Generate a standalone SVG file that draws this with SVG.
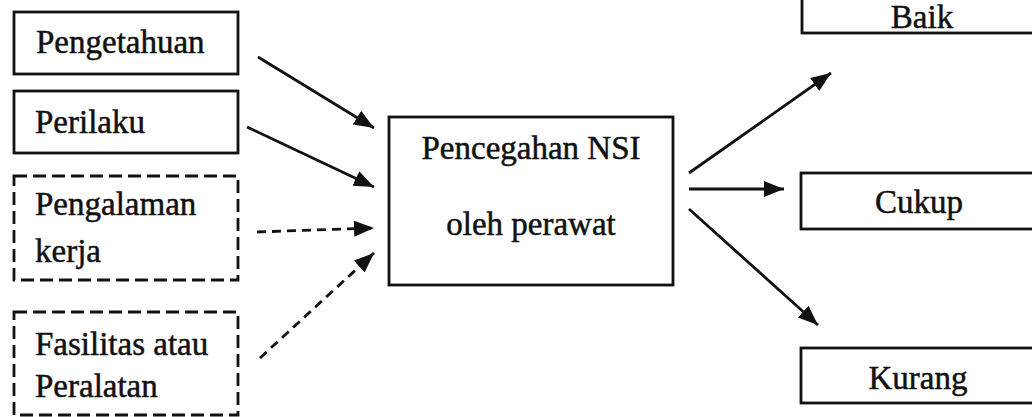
<svg xmlns="http://www.w3.org/2000/svg" width="1032" height="417" viewBox="0 0 1032 417">
<style>
.box{fill:#fff;stroke:#111;stroke-width:2.8}
.dbox{fill:#fff;stroke:#111;stroke-width:2.8;stroke-dasharray:13 6}
.t{font-family:"Liberation Serif","Times New Roman",serif;font-size:33px;fill:#111;stroke:#111;stroke-width:0.5}
.c{stroke:#111;stroke-width:2.8;fill:none}
.d{stroke-dasharray:9 6}
</style>
<defs>
<marker id="ah" markerUnits="userSpaceOnUse" markerWidth="22" markerHeight="18" refX="20" refY="8" orient="auto">
<path d="M0,0 L20,8 L0,16 Z" fill="#111"/>
</marker>
</defs>
<rect width="1032" height="417" fill="#fff"/>
<g id="n-pengetahuan"><rect class="box" x="14" y="12" width="224" height="62"/><text class="t" x="36" y="53">Pengetahuan</text></g>
<g id="n-perilaku"><rect class="box" x="14" y="91" width="224" height="62"/><text class="t" x="35" y="133">Perilaku</text></g>
<g id="n-pengalaman"><rect class="dbox" x="14" y="176" width="224" height="104"/><text class="t" x="35" y="215">Pengalaman</text><text class="t" x="35" y="262">kerja</text></g>
<g id="n-fasilitas"><rect class="dbox" x="14" y="312" width="224" height="103"/><text class="t" x="35" y="355">Fasilitas atau</text><text class="t" x="35" y="397">Peralatan</text></g>
<g id="n-pencegahan"><rect class="box" x="389" y="117" width="284" height="168"/><text class="t" x="531" y="159" text-anchor="middle">Pencegahan NSI</text><text class="t" x="531" y="235" text-anchor="middle">oleh perawat</text></g>
<g id="n-baik"><rect class="box" x="802" y="-20" width="245" height="53"/><text class="t" x="922" y="28" text-anchor="middle">Baik</text></g>
<g id="n-cukup"><rect class="box" x="801" y="173" width="245" height="56"/><text class="t" x="919" y="213" text-anchor="middle">Cukup</text></g>
<g id="n-kurang"><rect class="box" x="801" y="348" width="245" height="55"/><text class="t" x="918" y="389" text-anchor="middle">Kurang</text></g>
<g id="connectors">
<line class="c" x1="258" y1="57" x2="374" y2="128" marker-end="url(#ah)"/>
<line class="c" x1="247" y1="127" x2="374" y2="187" marker-end="url(#ah)"/>
<line class="c d" x1="257" y1="232" x2="374" y2="228" marker-end="url(#ah)"/>
<line class="c d" x1="260" y1="358" x2="374" y2="253" marker-end="url(#ah)"/>
<line class="c" x1="689" y1="173" x2="831" y2="73" marker-end="url(#ah)"/>
<line class="c" x1="689" y1="189" x2="784" y2="189" marker-end="url(#ah)"/>
<line class="c" x1="689" y1="209" x2="818" y2="325" marker-end="url(#ah)"/>
</g>
</svg>
